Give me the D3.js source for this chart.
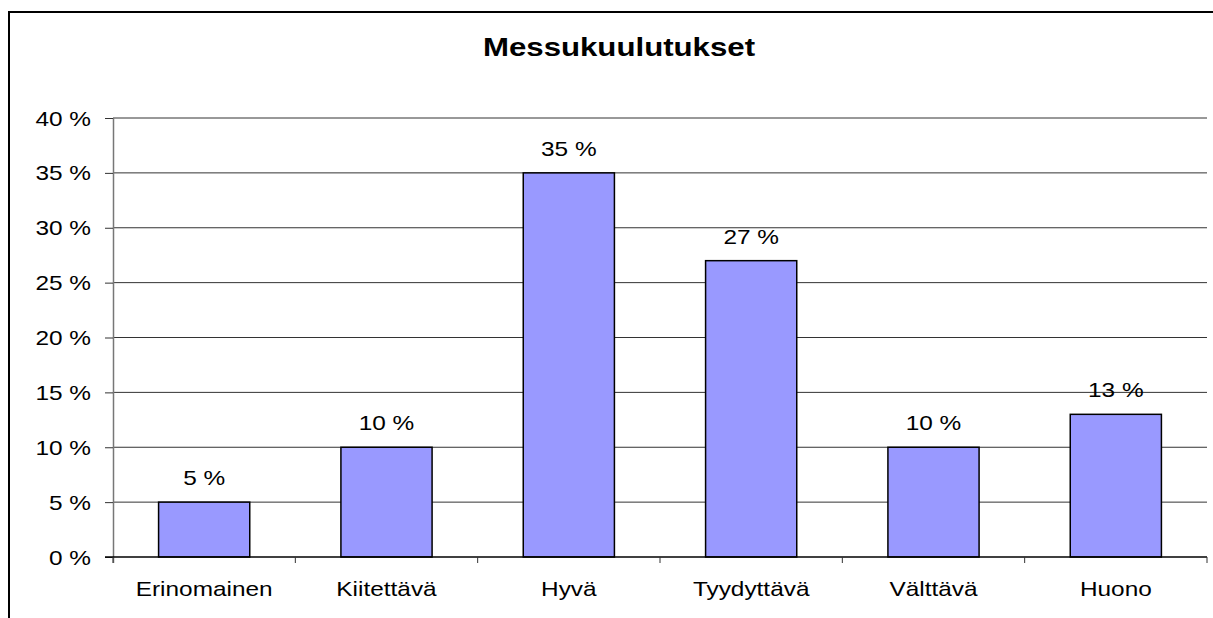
<!DOCTYPE html>
<html>
<head>
<meta charset="utf-8">
<script src="https://cdn.jsdelivr.net/npm/d3@7"></script>
<style>
  body { margin: 0; background: #fff; }
  svg { font-family: Arial, "Liberation Sans", sans-serif; }
</style>
</head>
<body>
<div id="chart"></div>
<script>
const categories = ["Erinomainen", "Kiitettävä", "Hyvä", "Tyydyttävä", "Välttävä", "Huono"];
const values = [5, 10, 35, 27, 10, 13];
const yTicks = [0, 5, 10, 15, 20, 25, 30, 35, 40];
const title = "Messukuulutukset";

const width = 1213;
const height = 618;
const plot = { left: 113, right: 1207, top: 118, bottom: 557 };
const sx = 1.22; // the original text is a bit wider than plain Arial

const svg = d3.select("#chart")
  .append("svg")
  .attr("width", width)
  .attr("height", height);

// outer chart border (cut off at right and bottom)
svg.append("rect")
  .attr("x", 9)
  .attr("y", 12)
  .attr("width", 1260)
  .attr("height", 700)
  .attr("fill", "none")
  .attr("stroke", "#000")
  .attr("stroke-width", 2);

svg.append("text")
  .attr("transform", `translate(619,56) scale(1.2,1)`)
  .attr("text-anchor", "middle")
  .style("font-size", "26px")
  .style("font-weight", "bold")
  .text(title);

const x = d3.scaleBand()
  .domain(categories)
  .range([plot.left, plot.right])
  .paddingInner(0.5)
  .paddingOuter(0.25);

const y = d3.scaleLinear()
  .domain([0, 40])
  .range([plot.bottom, plot.top]);

// gridlines
svg.append("g")
  .selectAll("line")
  .data(yTicks.filter(d => d > 0))
  .join("line")
  .attr("x1", plot.left)
  .attr("x2", plot.right)
  .attr("y1", d => y(d))
  .attr("y2", d => y(d))
  .attr("stroke", "#333")
  .attr("stroke-width", 1);

// y axis
const yAxis = svg.append("g")
  .attr("transform", `translate(${plot.left},0)`)
  .call(d3.axisLeft(y).tickValues(yTicks).tickSize(8).tickFormat(d => `${d} %`));
yAxis.select(".domain").attr("stroke", "#777").attr("stroke-width", 1.5).attr("d", `M0.5,${plot.top}V${plot.bottom + 6}`);
yAxis.selectAll(".tick line").attr("stroke", "#333");
yAxis.selectAll("text")
  .attr("x", -22 / sx)
  .attr("dy", "0.35em")
  .attr("transform", `scale(${sx},1)`)
  .style("font-size", "20px")
  .style("font-family", "Arial, 'Liberation Sans', sans-serif")
  .attr("fill", "#000");

// bars
svg.append("g")
  .selectAll("rect")
  .data(values)
  .join("rect")
  .attr("x", (d, i) => x(categories[i]))
  .attr("y", d => y(d))
  .attr("width", x.bandwidth())
  .attr("height", d => y(0) - y(d))
  .attr("fill", "#9999ff")
  .attr("stroke", "#000")
  .attr("stroke-width", 1.5);

// value labels
svg.append("g")
  .selectAll("text")
  .data(values)
  .join("text")
  .attr("transform", (d, i) => `translate(${x(categories[i]) + x.bandwidth() / 2},${y(d) - 17}) scale(${sx},1)`)
  .attr("text-anchor", "middle")
  .style("font-size", "20px")
  .text(d => `${d} %`);

// x axis baseline + category boundary ticks
const step = (plot.right - plot.left) / categories.length;
const xg = svg.append("g");
xg.append("line")
  .attr("x1", plot.left - 8)
  .attr("x2", plot.right)
  .attr("y1", plot.bottom)
  .attr("y2", plot.bottom)
  .attr("stroke", "#000")
  .attr("stroke-width", 1.5);
xg.selectAll("line.tk")
  .data(d3.range(categories.length + 1))
  .join("line")
  .attr("class", "tk")
  .attr("x1", i => plot.left + i * step)
  .attr("x2", i => plot.left + i * step)
  .attr("y1", plot.bottom)
  .attr("y2", plot.bottom + 6)
  .attr("stroke", "#333");
xg.selectAll("text")
  .data(categories)
  .join("text")
  .attr("transform", d => `translate(${x(d) + x.bandwidth() / 2},${plot.bottom + 39}) scale(${sx},1)`)
  .attr("text-anchor", "middle")
  .style("font-size", "20px")
  .text(d => d);
</script>
</body>
</html>
